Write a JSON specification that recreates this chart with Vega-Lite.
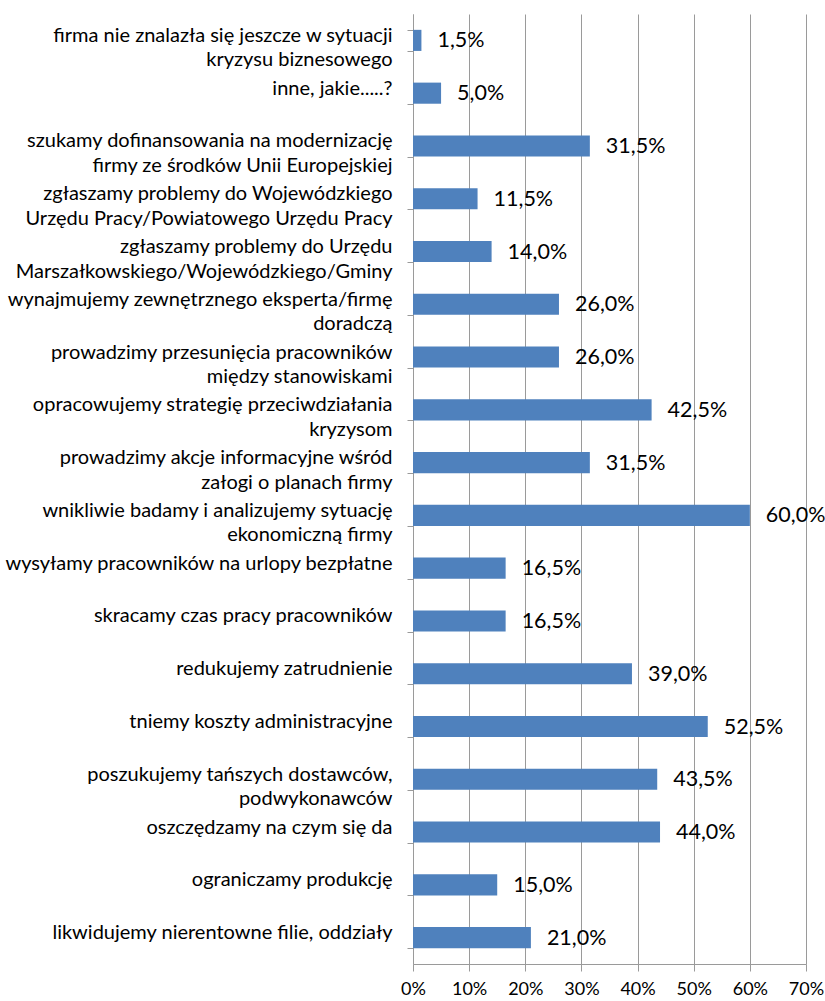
{
  "$schema": "https://vega.github.io/schema/vega-lite/v6.json",
  "width": 393,
  "height": 950,
  "autosize": "none",
  "padding": {"left": 413, "top": 14, "right": 19, "bottom": 37},
  "background": "white",
  "config": {
    "view": {"stroke": null},
    "locale": {"number": {"decimal": ",", "thousands": " ", "grouping": [3], "currency": ["", " zł"]}}
  },
  "data": {
    "values": [
      {"kategoria": "firma nie znalazła się jeszcze w sytuacji|kryzysu biznesowego", "udzial": 0.015},
      {"kategoria": "inne, jakie.....?", "udzial": 0.05},
      {"kategoria": "szukamy dofinansowania na modernizację|firmy ze środków Unii Europejskiej", "udzial": 0.315},
      {"kategoria": "zgłaszamy problemy do Wojewódzkiego|Urzędu Pracy/Powiatowego Urzędu Pracy", "udzial": 0.115},
      {"kategoria": "zgłaszamy problemy do Urzędu|Marszałkowskiego/Wojewódzkiego/Gminy", "udzial": 0.14},
      {"kategoria": "wynajmujemy zewnętrznego eksperta/firmę|doradczą", "udzial": 0.26},
      {"kategoria": "prowadzimy przesunięcia pracowników|między stanowiskami", "udzial": 0.26},
      {"kategoria": "opracowujemy strategię przeciwdziałania|kryzysom", "udzial": 0.425},
      {"kategoria": "prowadzimy akcje informacyjne wśród|załogi o planach firmy", "udzial": 0.315},
      {"kategoria": "wnikliwie badamy i analizujemy sytuację|ekonomiczną firmy", "udzial": 0.6},
      {"kategoria": "wysyłamy pracowników na urlopy bezpłatne", "udzial": 0.165},
      {"kategoria": "skracamy czas pracy pracowników", "udzial": 0.165},
      {"kategoria": "redukujemy zatrudnienie", "udzial": 0.39},
      {"kategoria": "tniemy koszty administracyjne", "udzial": 0.525},
      {"kategoria": "poszukujemy tańszych dostawców,|podwykonawców", "udzial": 0.435},
      {"kategoria": "oszczędzamy na czym się da", "udzial": 0.44},
      {"kategoria": "ograniczamy produkcję", "udzial": 0.15},
      {"kategoria": "likwidujemy nierentowne filie, oddziały", "udzial": 0.21}
    ]
  },
  "encoding": {
    "y": {
      "field": "kategoria",
      "type": "nominal",
      "sort": null,
      "scale": {"paddingInner": 0.6, "paddingOuter": 0.3},
      "axis": {
        "title": null,
        "tickBand": "extent",
        "tickSize": 6,
        "tickColor": "#9a9a9a",
        "domainColor": "#9a9a9a",
        "labelFont": "Lato",
        "labelFontSize": 20,
        "labelColor": "#000000",
        "labelLimit": 1000,
        "labelOverlap": false,
        "labelBaseline": "middle",
        "labelLineHeight": 24.5,
        "labelOffset": -5,
        "labelExpr": "split(datum.label, '|')",
        "labelAlign": "right",
        "labelPadding": 15
      }
    },
    "x": {
      "field": "udzial",
      "type": "quantitative",
      "scale": {"domain": [0, 0.7], "nice": false},
      "axis": {
        "title": null,
        "format": "%",
        "values": [0, 0.1, 0.2, 0.3, 0.4, 0.5, 0.6, 0.7],
        "grid": true,
        "gridColor": "#9a9a9a",
        "gridWidth": 1,
        "tickColor": "#9a9a9a",
        "domainColor": "#9a9a9a",
        "tickSize": 7,
        "labelPadding": 9,
        "labelFont": "Lato",
        "labelFontSize": 18,
        "labelColor": "#000000",
        "labelFlush": false,
        "labelOverlap": false
      }
    }
  },
  "layer": [
    {"mark": {"type": "bar", "color": "#4F81BD"}},
    {
      "mark": {"type": "text", "align": "left", "baseline": "middle", "dx": 16, "dy": 1, "font": "Lato", "fontSize": 21.5, "color": "#000000"},
      "encoding": {"text": {"field": "udzial", "type": "quantitative", "format": ".1%"}}
    }
  ]
}
